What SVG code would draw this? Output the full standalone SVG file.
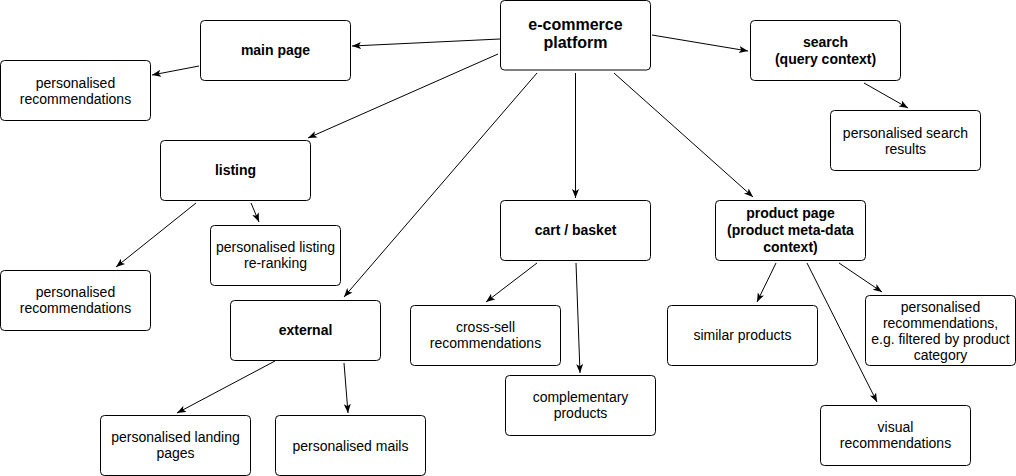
<svg xmlns="http://www.w3.org/2000/svg" width="1016" height="476" viewBox="0 0 1016 476">
<defs>
<marker id="arr" markerUnits="userSpaceOnUse" markerWidth="12" markerHeight="10" refX="9" refY="4" orient="auto">
<path d="M0,0.5 L9,4 L0,7.5 L2.2,4 Z" fill="#000"/>
</marker>
<style>
.box{fill:#fff;stroke:#000;stroke-width:1}
.t{font-family:"Liberation Sans",Helvetica,Arial,sans-serif;font-size:14px;fill:#000;text-anchor:middle}
.b{font-weight:bold}
.big{font-size:16px}
.e{fill:none;stroke:#000;stroke-width:1;marker-end:url(#arr)}
</style>
</defs>
<rect width="1016" height="476" fill="#fff"/>
<g id="connectors">
<path class="e" d="M500,39 L352,46"/>
<path class="e" d="M199,66 L152,75"/>
<path class="e" d="M652,35 L748,51"/>
<path class="e" d="M864,83 L908,108"/>
<path class="e" d="M498,54 L308,138"/>
<path class="e" d="M537,73 L344,297"/>
<path class="e" d="M575.5,73 L575.5,198"/>
<path class="e" d="M614,73 L753,197"/>
<path class="e" d="M196,203 L116,267"/>
<path class="e" d="M251,203 L259,222"/>
<path class="e" d="M537,263 L486,302"/>
<path class="e" d="M576,263 L580,373"/>
<path class="e" d="M275,361 L177,413"/>
<path class="e" d="M344,363 L348,413"/>
<path class="e" d="M776,263 L757,302"/>
<path class="e" d="M807,263 L877,402"/>
<path class="e" d="M839,263 L882,292"/>
</g>
<g id="platform">
<rect class="box" x="500.5" y="0.5" width="150" height="69.5" rx="4"/>
<text class="t b big" x="575.5" y="30">e-commerce</text>
<text class="t b big" x="575.5" y="48">platform</text>
</g>
<g id="main-page">
<rect class="box" x="200.5" y="20.5" width="150" height="60" rx="4"/>
<text class="t b" x="275.5" y="55">main page</text>
</g>
<g id="main-recs">
<rect class="box" x="0.5" y="60.5" width="150" height="60" rx="4"/>
<text class="t" x="75.5" y="88">personalised</text>
<text class="t" x="75.5" y="104">recommendations</text>
</g>
<g id="search">
<rect class="box" x="750.5" y="20.5" width="150" height="60" rx="4"/>
<text class="t b" x="825.5" y="47">search</text>
<text class="t b" x="825.5" y="64">(query context)</text>
</g>
<g id="search-results">
<rect class="box" x="830.5" y="110.5" width="150" height="60" rx="4"/>
<text class="t" x="905.5" y="138">personalised search</text>
<text class="t" x="905.5" y="154">results</text>
</g>
<g id="listing">
<rect class="box" x="160.5" y="140.5" width="150" height="60" rx="4"/>
<text class="t b" x="235.5" y="175">listing</text>
</g>
<g id="listing-reranking">
<rect class="box" x="210.5" y="225.5" width="130" height="60" rx="4"/>
<text class="t" x="275.5" y="252">personalised listing</text>
<text class="t" x="275.5" y="268">re-ranking</text>
</g>
<g id="listing-recs">
<rect class="box" x="0.5" y="270.5" width="150" height="60" rx="4"/>
<text class="t" x="75.5" y="297">personalised</text>
<text class="t" x="75.5" y="313">recommendations</text>
</g>
<g id="external">
<rect class="box" x="230.5" y="300.5" width="150" height="60" rx="4"/>
<text class="t b" x="305.5" y="335">external</text>
</g>
<g id="landing-pages">
<rect class="box" x="100.5" y="415.5" width="150" height="60" rx="4"/>
<text class="t" x="175.5" y="442">personalised landing</text>
<text class="t" x="175.5" y="458">pages</text>
</g>
<g id="mails">
<rect class="box" x="275.5" y="415.5" width="150" height="60" rx="4"/>
<text class="t" x="350.5" y="451">personalised mails</text>
</g>
<g id="cart">
<rect class="box" x="500.5" y="200.5" width="150" height="60" rx="4"/>
<text class="t b" x="575.5" y="235">cart / basket</text>
</g>
<g id="cross-sell">
<rect class="box" x="410.5" y="305.5" width="150" height="60" rx="4"/>
<text class="t" x="485.5" y="332">cross-sell</text>
<text class="t" x="485.5" y="348">recommendations</text>
</g>
<g id="complementary">
<rect class="box" x="505.5" y="375.5" width="150" height="60" rx="4"/>
<text class="t" x="580.5" y="402">complementary</text>
<text class="t" x="580.5" y="418">products</text>
</g>
<g id="product-page">
<rect class="box" x="715.5" y="200.5" width="150" height="60" rx="4"/>
<text class="t b" x="790.5" y="218">product page</text>
<text class="t b" x="790.5" y="235">(product meta-data</text>
<text class="t b" x="790.5" y="252">context)</text>
</g>
<g id="similar">
<rect class="box" x="667.5" y="305.5" width="150" height="60" rx="4"/>
<text class="t" x="742.5" y="340">similar products</text>
</g>
<g id="product-recs">
<rect class="box" x="865.5" y="295.5" width="150" height="70" rx="4"/>
<text class="t" x="940.5" y="312">personalised</text>
<text class="t" x="940.5" y="328">recommendations,</text>
<text class="t" x="940.5" y="344">e.g. filtered by product</text>
<text class="t" x="940.5" y="360">category</text>
</g>
<g id="visual">
<rect class="box" x="820.5" y="405.5" width="150" height="60" rx="4"/>
<text class="t" x="895.5" y="432">visual</text>
<text class="t" x="895.5" y="448">recommendations</text>
</g>
</svg>
